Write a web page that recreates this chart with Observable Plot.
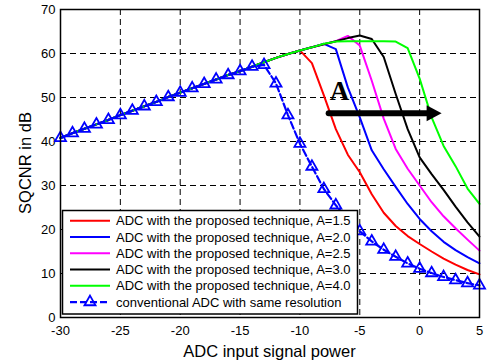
<!DOCTYPE html>
<html><head><meta charset="utf-8">
<script src="https://cdn.jsdelivr.net/npm/d3@7"></script>
<script src="https://cdn.jsdelivr.net/npm/@observablehq/plot@0.6"></script>
<style>body{margin:0;background:#fff}</style>
</head><body><div id="chart"></div>
<script>
// ---- data ----
const xPower = [-30,-29,-28,-27,-26,-25,-24,-23,-22,-21,-20,-19,-18,-17,-16,-15,-14,-13,-12,-11,-10,-9,-8,-7,-6,-5,-4,-3,-2,-1,0,1,2,3,4,5];
const conventional = [40.8,41.9,42.9,43.9,44.9,46.0,47.0,48.0,49.0,50.1,51.1,52.1,53.1,54.1,55.1,56.0,57.0,57.4,53.2,46.0,39.5,34.3,29.2,25.5,22.3,19.6,17.3,15.4,13.8,12.3,11.1,10.1,9.2,8.5,7.8,7.3];
const propA15 = [40.8,41.9,42.9,43.9,44.9,46.0,47.0,48.0,49.0,50.1,51.1,52.1,53.1,54.1,55.1,56.0,57.0,58.0,59.0,59.9,60.7,57.8,50.5,42.8,37.0,33.0,28.0,23.8,20.8,18.5,16.7,15.0,13.4,12.0,10.8,9.8];
const propA20 = [40.8,41.9,42.9,43.9,44.9,46.0,47.0,48.0,49.0,50.1,51.1,52.1,53.1,54.1,55.1,56.0,57.0,58.0,59.0,59.9,60.7,61.4,62.2,61.0,52.3,45.5,38.0,33.7,29.7,25.8,22.4,19.6,17.2,15.3,13.7,12.3];
const propA25 = [40.8,41.9,42.9,43.9,44.9,46.0,47.0,48.0,49.0,50.1,51.1,52.1,53.1,54.1,55.1,56.0,57.0,58.0,59.0,59.9,60.7,61.4,62.1,62.8,64.0,61.8,53.8,45.2,38.3,33.8,30.0,26.2,23.0,20.3,17.7,15.2];
const propA30 = [40.8,41.9,42.9,43.9,44.9,46.0,47.0,48.0,49.0,50.1,51.1,52.1,53.1,54.1,55.1,56.0,57.0,58.0,59.0,59.9,60.7,61.4,62.1,62.8,63.5,64.1,63.3,59.2,50.8,42.8,36.4,32.6,29.0,25.2,21.6,18.4];
const propA40 = [40.8,41.9,42.9,43.9,44.9,46.0,47.0,48.0,49.0,50.1,51.1,52.1,53.1,54.1,55.1,56.0,57.0,58.0,59.0,59.9,60.7,61.4,62.2,62.7,62.8,62.8,62.8,62.8,62.7,61.2,54.3,45.5,39.0,34.4,29.3,25.8];
const proposedSeries = [propA15, propA20, propA25, propA30, propA40];
const seriesNames = [
  "ADC with the proposed technique, A=1.5",
  "ADC with the proposed technique, A=2.0",
  "ADC with the proposed technique, A=2.5",
  "ADC with the proposed technique, A=3.0",
  "ADC with the proposed technique, A=4.0"
];
const conventionalName = "conventional ADC with same resolution";
const seriesColors = ["#ff0000", "#0000ff", "#ff00ff", "#000000", "#00ff00"];
const conventionalColor = "#0000ff";
const xTicks = [-30,-25,-20,-15,-10,-5,0,5];
const yTicks = [0,10,20,30,40,50,60,70];
const xLabel = "ADC input signal power";
const yLabel = "SQCNR in dB";
// annotation: "A" label and arrow showing growth direction (data units)
const annotLabel = [{x: -6.7, y: 51.4, text: "A"}];
const arrowShaft = [{x: -7.6, y: 46.4}, {x: 1.0, y: 46.4}];
const arrowHead = [{x: 1.0, y: 46.4}];

// ---- build tables ----
const proposedTables = proposedSeries.map(vals => vals.map((v, j) => ({x: xPower[j], y: v})));
const convTable = conventional.map((v, j) => ({x: xPower[j], y: v}));

const headSymbol = {
  draw(ctx) { ctx.moveTo(10, 0); ctx.lineTo(-5, -8); ctx.lineTo(-5, 8); ctx.closePath(); }
};

const FONT = "'Liberation Sans', Arial, Helvetica, sans-serif";
const TRI_R = 4.1;

const chart = Plot.plot({
  width: 487, height: 361,
  marginLeft: 60, marginRight: 8, marginTop: 9, marginBottom: 44,
  style: {fontFamily: FONT, fontSize: "13px", background: "white", color: "black"},
  x: {domain: [-30, 5], ticks: xTicks, tickSize: 0, tickPadding: 8, label: null, tickFormat: d => String(d)},
  y: {domain: [0, 70], ticks: yTicks, tickSize: 0, tickPadding: 5, label: null, tickFormat: d => String(d)},
  marks: [
    Plot.ruleX(xTicks, {stroke: "#000", strokeWidth: 1, strokeDasharray: "6,4"}),
    Plot.ruleY(yTicks, {stroke: "#000", strokeWidth: 1, strokeDasharray: "6,4"}),
    ...proposedTables.map((t, i) => Plot.line(t, {x: "x", y: "y", stroke: seriesColors[i], strokeWidth: 2})),
    Plot.line(convTable, {x: "x", y: "y", stroke: conventionalColor, strokeWidth: 2.2, strokeDasharray: "7,3"}),
    Plot.dot(convTable, {x: "x", y: "y", symbol: "triangle", r: TRI_R, stroke: conventionalColor, strokeWidth: 1.8, fill: "none"}),
    Plot.line(arrowShaft, {x: "x", y: "y", stroke: "#000", strokeWidth: 6}),
    Plot.dot(arrowHead, {x: "x", y: "y", symbol: headSymbol, fill: "#000", stroke: "none"}),
    Plot.text(annotLabel, {x: "x", y: "y", text: "text", fontFamily: "'Liberation Serif', 'Times New Roman', serif", fontWeight: "bold", fontSize: 27, lineAnchor: "middle"}),
    Plot.frame({stroke: "#000", strokeWidth: 1.5})
  ]
});

document.getElementById("chart").appendChild(chart);

// ---- axis titles and legend ----
const svg = d3.select(chart);
svg.append("text")
  .attr("x", 269.5).attr("y", 351)
  .attr("text-anchor", "middle").attr("dominant-baseline", "central")
  .attr("font-family", FONT).attr("font-size", 16.5).attr("fill", "#000")
  .text(xLabel);
svg.append("text")
  .attr("transform", "translate(25,163) rotate(-90)")
  .attr("text-anchor", "middle").attr("dominant-baseline", "central")
  .attr("font-family", FONT).attr("font-size", 16.5).attr("fill", "#000")
  .text(yLabel);

const lg = svg.append("g").attr("text-anchor", "start");
lg.append("rect").attr("x", 62.5).attr("y", 210.5).attr("width", 295).attr("height", 103.5)
  .attr("fill", "#fff").attr("stroke", "#000").attr("stroke-width", 1.5);
const rowY = i => 220.8 + i * 16.25;
seriesNames.forEach((name, i) => {
  lg.append("line").attr("x1", 70).attr("x2", 110).attr("y1", rowY(i)).attr("y2", rowY(i))
    .attr("stroke", seriesColors[i]).attr("stroke-width", 2);
  lg.append("text").attr("x", 116).attr("y", rowY(i)).attr("dominant-baseline", "central")
    .attr("text-anchor", "start")
    .attr("font-family", FONT).attr("font-size", 13).attr("fill", "#000").text(name);
});
{
  const i = 5;
  lg.append("line").attr("x1", 70).attr("x2", 110).attr("y1", rowY(i)).attr("y2", rowY(i))
    .attr("stroke", conventionalColor).attr("stroke-width", 2.2).attr("stroke-dasharray", "7,3");
  lg.append("path").attr("d", d3.symbol(d3.symbolTriangle, Math.PI * TRI_R * TRI_R)())
    .attr("transform", `translate(90,${rowY(i)})`)
    .attr("fill", "none").attr("stroke", conventionalColor).attr("stroke-width", 1.8);
  lg.append("text").attr("x", 116).attr("y", rowY(i)).attr("dominant-baseline", "central")
    .attr("text-anchor", "start")
    .attr("font-family", FONT).attr("font-size", 13).attr("fill", "#000").text(conventionalName);
}
</script>
</body></html>
